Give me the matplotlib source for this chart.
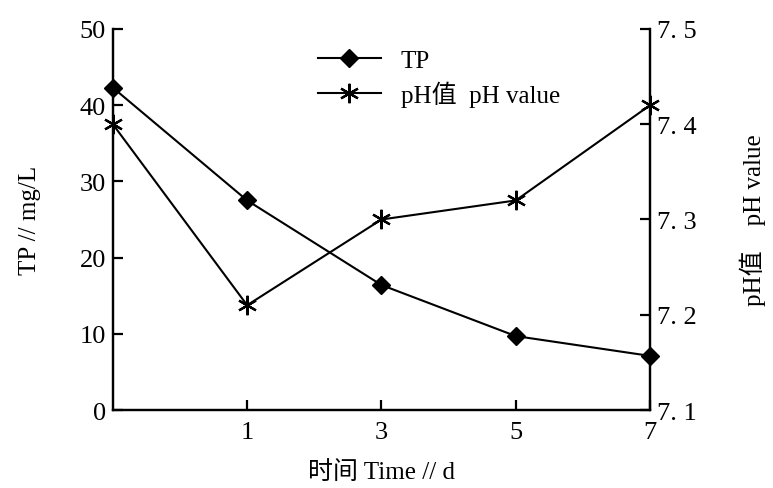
import matplotlib.pyplot as plt

plt.rcParams['font.family'] = ['Liberation Serif', 'Noto Sans CJK SC']

# Sampling days and measurements
days = ["0", "1", "3", "5", "7"]
tp = [42.3, 27.5, 16.4, 9.7, 7.1]
ph = [7.40, 7.21, 7.30, 7.32, 7.42]

left_ticks = [0, 10, 20, 30, 40, 50]
right_ticks = [7.1, 7.2, 7.3, 7.4, 7.5]
right_tick_labels = ["7. 1", "7. 2", "7. 3", "7. 4", "7. 5"]

x = list(range(len(days)))

fig = plt.figure(figsize=(7.73, 4.89), dpi=100)
ax1 = fig.add_axes([0.146, 0.1595, 0.695, 0.7792])
ax2 = ax1.twinx()

l1, = ax1.plot(x, tp, color="black", marker="D", markersize=9,
               linewidth=1.5, label="TP", clip_on=False, zorder=5)
l2, = ax2.plot(x, ph, color="black", marker=(6, 2, 0), markersize=14,
               markeredgewidth=1.6, linewidth=1.5, label="pH值  pH value",
               clip_on=False, zorder=5)

ax1.set_xlim(0, 4)
ax1.set_ylim(0, 50)
ax2.set_ylim(7.1, 7.5)

ax1.set_xticks(x[1:])
ax1.set_xticklabels(days[1:])
ax1.set_yticks(left_ticks)
ax2.set_yticks(right_ticks)
ax2.set_yticklabels(right_tick_labels)

for ax in (ax1, ax2):
    ax.spines["top"].set_visible(False)
    for s in ax.spines.values():
        s.set_linewidth(1.6)
    ax.tick_params(direction="in", length=7, width=1.6, labelsize=19)

ax1.tick_params(axis="x", pad=8)
ax1.tick_params(axis="y", pad=5)
ax2.tick_params(axis="y", pad=5)

ax1.set_xlabel("时间 Time // d", fontsize=18, labelpad=12)
ax1.set_ylabel("TP // mg/L", fontsize=18, labelpad=28)
ax2.set_ylabel("pH值    pH value", fontsize=18, labelpad=31)

ax1.legend(handles=[l1, l2], loc="upper left", bbox_to_anchor=(0.34, 1.005),
           frameon=False, fontsize=18, handlelength=2.5, labelspacing=0.35,
           handletextpad=0.8)

fig.savefig("out.png", dpi=100)
